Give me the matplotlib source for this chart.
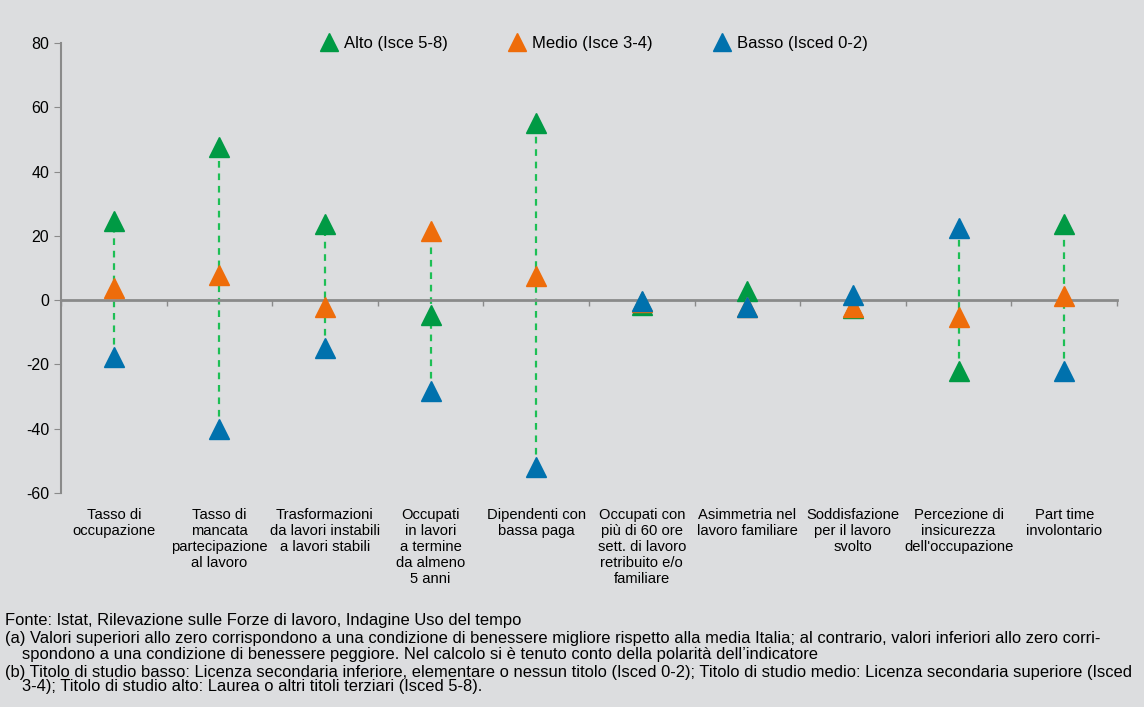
import numpy as np
import matplotlib.pyplot as plt
from matplotlib.transforms import blended_transform_factory

categories = [
    "Tasso di\noccupazione",
    "Tasso di\nmancata\npartecipazione\nal lavoro",
    "Trasformazioni\nda lavori instabili\na lavori stabili",
    "Occupati\nin lavori\na termine\nda almeno\n5 anni",
    "Dipendenti con\nbassa paga",
    "Occupati con\npiù di 60 ore\nsett. di lavoro\nretribuito e/o\nfamiliare",
    "Asimmetria nel\nlavoro familiare",
    "Soddisfazione\nper il lavoro\nsvolto",
    "Percezione di\ninsicurezza\ndell'occupazione",
    "Part time\ninvolontario",
]
alto = [24.5, 47.8, 23.8, -4.6, 55.0, -1.5, 3.0, -2.5, -22.0, 23.8]
medio = [3.7, 7.7, -2.0, 21.6, 7.4, -0.5, -2.0, -2.0, -5.2, 1.2]
basso = [-17.6, -40.0, -15.0, -28.4, -52.0, -0.3, -2.0, 1.5, 22.5, -22.0]
labels = ["Alto (Isce 5-8)", "Medio (Isce 3-4)", "Basso (Isced 0-2)"]
colors = ["#009a44", "#ee6c0a", "#0071ad"]

notes = [
    "Fonte: Istat, Rilevazione sulle Forze di lavoro, Indagine Uso del tempo",
    "(a) Valori superiori allo zero corrispondono a una condizione di benessere migliore rispetto alla media Italia; al contrario, valori inferiori allo zero corri-",
    "spondono a una condizione di benessere peggiore. Nel calcolo si è tenuto conto della polarità dell\u2019indicatore",
    "(b) Titolo di studio basso: Licenza secondaria inferiore, elementare o nessun titolo (Isced 0-2); Titolo di studio medio: Licenza secondaria superiore (Isced",
    "3-4); Titolo di studio alto: Laurea o altri titoli terziari (Isced 5-8).",
]
note_x = [5, 5, 22, 5, 22]
note_y = [621, 638, 654, 672, 687]

bg = "#dcdddf"
axcol = "#8a8a8a"
narrow = ["Liberation Sans Narrow", "Liberation Sans", "DejaVu Sans"]
plt.rcParams['font.family'] = ['Liberation Sans', 'DejaVu Sans']
plt.rcParams['axes.unicode_minus'] = False

fig = plt.figure(figsize=(11.44, 7.07), dpi=100, facecolor=bg)
ax = fig.add_axes([0.0533, 0.3027, 0.9231, 0.6363], facecolor=bg)

x = np.arange(len(categories))
data = np.array([alto, medio, basso])
ax.vlines(x, data.min(axis=0), data.max(axis=0), colors="#1dbf55",
          linestyles=(0, (3, 2.6)), lw=1.6, zorder=2)
for vals, lab, c in zip(data, labels, colors):
    ax.plot(x, vals, linestyle="none", marker="^", markersize=14, color=c,
            markeredgecolor=c, markeredgewidth=1, label=lab, zorder=3)

ax.set_xlim(-0.5, len(categories) - 0.5)
ax.set_ylim(-60, 80)
ax.set_yticks(range(-60, 81, 20))
ax.tick_params(axis="y", colors=axcol, labelcolor="black", labelsize=11.5,
               length=5, direction="out")
for s in ["top", "right"]:
    ax.spines[s].set_visible(False)
ax.spines["left"].set_color(axcol)
ax.spines["left"].set_linewidth(1.5)
ax.spines["bottom"].set_position(("data", 0))
ax.spines["bottom"].set_color(axcol)
ax.spines["bottom"].set_linewidth(2)
ax.set_xticks(np.arange(-0.5, len(categories), 1))
ax.set_xticklabels([])
ax.tick_params(axis="x", colors=axcol, length=4, width=1, direction="out")

trans = blended_transform_factory(ax.transData, ax.transAxes)
for xi, lab in zip(x, categories):
    ax.text(xi, -0.033, lab, transform=trans, ha="center", va="top",
            fontsize=10.6, linespacing=1.18, family=narrow)

fig.legend(loc="center", bbox_to_anchor=(0.516, 0.939), ncol=3, frameon=False,
           fontsize=12, handletextpad=-0.1, columnspacing=3.15, markerscale=0.9)

for nx, ny, t in zip(note_x, note_y, notes):
    fig.text(nx / 1144, 1 - ny / 707, t, ha="left", va="center", fontsize=11.9,
             family=narrow)

fig.savefig("out.png", dpi=100, facecolor=bg)
